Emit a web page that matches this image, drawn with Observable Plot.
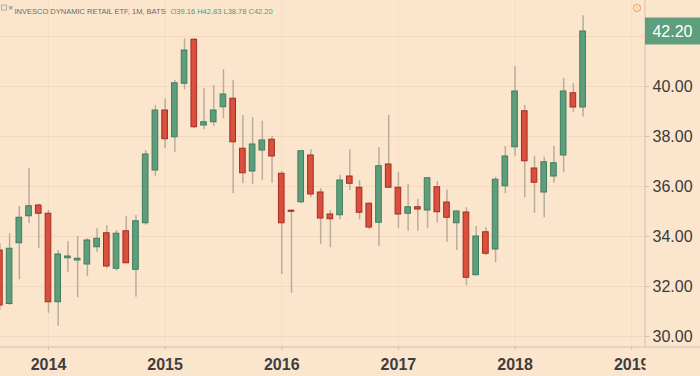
<!DOCTYPE html>
<html><head><meta charset="utf-8">
<script src="https://cdn.jsdelivr.net/npm/d3@7"></script>
<script src="https://cdn.jsdelivr.net/npm/@observablehq/plot@0.6"></script>
<style>
html,body{margin:0;padding:0;background:#fce5cd;overflow:hidden;}
</style></head><body><div id="chart"></div>
<script>
const months = ["2013-08","2013-09","2013-10","2013-11","2013-12",
"2014-01","2014-02","2014-03","2014-04","2014-05","2014-06","2014-07","2014-08","2014-09","2014-10","2014-11","2014-12",
"2015-01","2015-02","2015-03","2015-04","2015-05","2015-06","2015-07","2015-08","2015-09","2015-10","2015-11","2015-12",
"2016-01","2016-02","2016-03","2016-04","2016-05","2016-06","2016-07","2016-08","2016-09","2016-10","2016-11","2016-12",
"2017-01","2017-02","2017-03","2017-04","2017-05","2017-06","2017-07","2017-08","2017-09","2017-10","2017-11","2017-12",
"2018-01","2018-02","2018-03","2018-04","2018-05","2018-06","2018-07","2018-08"];
const open = [33.44,31.30,33.73,34.81,35.24,
34.91,31.37,33.13,33.04,32.88,33.57,34.13,32.71,34.21,32.67,34.53,36.64,
39.04,37.97,40.11,41.87,38.44,38.57,39.17,39.51,37.51,36.60,37.44,37.87,
36.51,35.03,35.37,37.24,35.76,34.88,34.85,36.40,35.95,35.31,34.55,36.88,
35.95,34.91,35.17,35.04,35.97,35.36,34.53,34.96,32.45,34.17,33.48,36.01,
37.57,39.01,36.72,35.76,36.40,37.24,39.73,39.16];
const high = [33.70,34.11,35.20,36.72,35.30,
35.04,33.44,33.80,34.00,33.92,34.31,34.44,34.24,34.80,34.84,37.44,39.24,
39.51,40.24,41.91,41.92,39.91,40.04,40.67,40.24,38.84,38.75,38.61,38.00,
36.60,35.06,37.44,37.47,35.91,35.04,36.44,37.47,36.24,35.34,37.55,38.84,
36.57,36.08,35.49,36.35,36.20,35.86,35.02,35.15,34.40,34.35,36.37,37.60,
40.80,39.24,37.21,37.17,37.61,40.33,40.11,42.83];
const low = [31.05,31.24,32.27,34.52,33.51,
30.93,30.41,32.56,31.55,32.40,33.37,32.71,32.61,32.91,31.57,34.45,36.41,
37.51,37.37,39.87,38.32,38.27,38.40,38.71,35.71,36.11,36.08,36.24,36.13,
32.48,31.73,35.31,35.55,33.67,33.55,34.67,35.84,34.67,34.27,33.60,35.93,
34.31,34.21,34.21,34.31,34.54,33.77,33.44,32.03,32.43,33.24,32.95,35.71,
37.21,35.55,34.93,34.75,36.13,36.55,38.97,38.78];
const close = [31.24,33.51,34.75,35.21,34.91,
31.37,33.28,33.20,33.11,33.84,33.91,32.80,34.11,32.93,34.61,37.28,39.04,
37.89,40.13,41.44,38.37,38.57,39.04,39.68,37.77,36.53,37.68,37.84,37.20,
34.53,34.99,37.41,35.68,34.72,34.69,36.24,36.11,34.95,34.36,36.81,35.95,
34.88,35.17,35.08,36.33,34.97,34.75,35.00,32.35,34.00,33.31,36.27,37.20,
39.80,37.01,36.15,36.97,36.93,39.80,39.16,42.20];
const yearLabels = ["2014","2015","2016","2017","2018","2019"];
const yearMonths = ["2014-01","2015-01","2016-01","2017-01","2018-01","2019-01"];
const priceTicks = [30,32,34,36,38,40,42];
const priceLabels = [30,32,34,36,38,40];
const lastPrice = 42.20;
const titleText = "INVESCO DYNAMIC RETAIL ETF, 1M, BATS";
const ohlcText = "O39.16 H42.83 L38.78 C42.20";

const idx = m => { const [y, mo] = m.split("-").map(Number); return (y - 2013) * 12 + (mo - 8); };
const data = months.map((m, k) => ({i: idx(m), o: open[k], h: high[k], l: low[k], c: close[k], up: close[k] >= open[k]}));
const yearIdx = yearMonths.map(idx);
const yearMap = new Map(yearIdx.map((v, k) => [v, yearLabels[k]]));

const bg = "#fce5cd";
const grid = "#f3d8bf";
const axisCol = "#d2c1ae";
const green = "#5d9f7d", greenEdge = "#3f7d5d";
const red = "#d9503e", redEdge = "#a32c21";
const wick = "#b9ad9c";

const chart = Plot.plot({
  width: 700, height: 376,
  marginLeft: 0, marginRight: 55, marginTop: 0, marginBottom: 29,
  style: {background: bg, fontFamily: "'Liberation Sans', Arial, sans-serif", overflow: "visible"},
  x: {type: "linear", domain: [0.064, 66.42]},
  y: {domain: [29.56, 43.44]},
  marks: [
    Plot.gridX(yearIdx, {stroke: grid, strokeOpacity: 0.7}),
    Plot.gridY(priceTicks, {stroke: grid, strokeOpacity: 1, strokeWidth: 1.2}),
    Plot.ruleX(data, {x: "i", y1: "l", y2: "h", stroke: wick, strokeWidth: 1.5}),
    Plot.rect(data, {x1: d => d.i - 0.29, x2: d => d.i + 0.29, y1: "o", y2: "c",
      fill: d => d.up ? green : red, stroke: d => d.up ? greenEdge : redEdge, strokeWidth: 1}),
    Plot.axisX(yearIdx, {tickFormat: d => yearMap.get(d), tickSize: 3, tickPadding: 8, stroke: axisCol,
      fill: "#3e3e3e", fontSize: 16, fontWeight: "bold", label: null}),
    Plot.axisY(priceLabels, {anchor: "right", tickFormat: d => d.toFixed(2), tickSize: 3, tickPadding: 4,
      stroke: axisCol, fill: "#3a3a3a", fontSize: 16, label: null}),
    Plot.text([titleText], {text: d => d, frameAnchor: "top-left", dx: 14, dy: 8, fontSize: 7.5, fill: "#6a6a6a", textAnchor: "start"}),
    Plot.text(["·"], {text: d => d, frameAnchor: "top-left", dx: 164, dy: 8, fontSize: 7.5, fill: "#909090"}),
    Plot.text([ohlcText], {text: d => d, frameAnchor: "top-left", dx: 170, dy: 8, fontSize: 7.5, fill: "#4e9a72", textAnchor: "start"})
  ]
});
document.getElementById("chart").appendChild(chart);

const svg = d3.select(chart);
const ys = chart.scale("y");
// clip x labels at the price axis
svg.append("defs").append("clipPath").attr("id", "plotclip").append("rect").attr("x", -5).attr("y", 0).attr("width", 650).attr("height", 376);
svg.selectAll("g[aria-label='x-axis tick label']").attr("clip-path", "url(#plotclip)");
// axis lines
svg.append("line").attr("x1", 0).attr("x2", 700).attr("y1", 347).attr("y2", 347).attr("stroke", axisCol);
svg.append("line").attr("x1", 645).attr("x2", 645).attr("y1", 0).attr("y2", 347).attr("stroke", axisCol);
// last price label
const yl = ys.apply(lastPrice);
svg.append("rect").attr("x", 645).attr("y", yl - 13.5).attr("width", 55).attr("height", 27).attr("fill", green);
svg.append("text").attr("x", 672.5).attr("y", yl).attr("dy", "0.36em").attr("text-anchor", "middle")
  .attr("fill", "#ffffff").attr("font-size", 16).text(lastPrice.toFixed(2));
// icons
svg.append("rect").attr("x", 1.5).attr("y", 5).attr("width", 5).attr("height", 5).attr("fill", "none").attr("stroke", "#a0a0a0").attr("stroke-width", 0.8);
svg.append("rect").attr("x", 9).attr("y", 6).attr("width", 3.5).attr("height", 3.5).attr("fill", "#a8b0c0");
svg.append("circle").attr("cx", 637).attr("cy", 8).attr("r", 3.6).attr("fill", "none").attr("stroke", "#f0a060").attr("stroke-width", 1);
svg.append("text").attr("x", 637).attr("y", 8).attr("dy", "0.35em").attr("text-anchor", "middle").attr("font-size", 5.5).attr("fill", "#f0a060").text("!");
</script>
</body></html>
